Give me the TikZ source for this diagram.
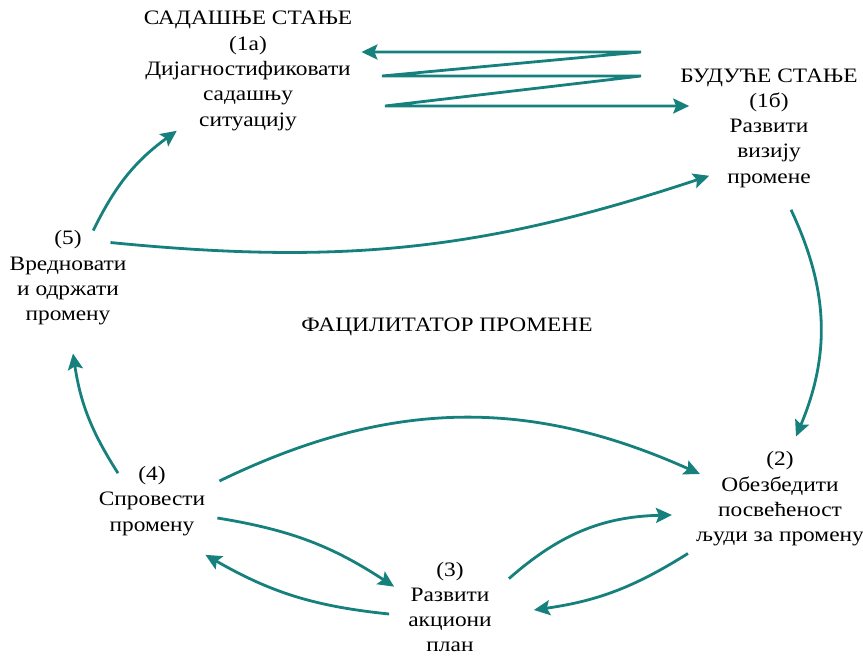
\documentclass[tikz,border=0pt]{standalone}
\usepackage{fontspec}
\setmainfont[FakeStretch=1.14]{Liberation Serif}
\usetikzlibrary{arrows.meta}
\definecolor{tealline}{RGB}{22,128,125}

\begin{document}
\begin{tikzpicture}[
    x=1pt, y=1pt,
    font=\fontsize{20.5}{25.3}\selectfont,
    stepbox/.style={align=center, inner sep=0pt},
    flow/.style={draw=tealline, line width=2.8pt, -{Stealth[length=16pt, width=15pt, inset=3pt]}},
    both/.style={draw=tealline, line width=2.8pt, {Stealth[length=16pt, width=15pt, inset=3pt]}-{Stealth[length=16pt, width=15pt, inset=3pt]}}
]
\useasboundingbox (0,0) rectangle (863,-656);

% Steps of the cycle
\node[stepbox] (now) at (248,-71) {САДАШЊЕ СТАЊЕ\\(1а)\\Дијагностификовати\\садашњу\\ситуацију};
\node[stepbox] (future) at (769,-128) {БУДУЋЕ СТАЊЕ\\(1б)\\Развити\\визију\\промене};
\node[stepbox] (commit) at (780,-499) {(2)\\Обезбедити\\посвећеност\\људи за промену};
\node[stepbox] (plan) at (450,-607) {(3)\\Развити\\акциони\\план};
\node[stepbox] (apply) at (152,-501) {(4)\\Спровести\\промену};
\node[stepbox] (keep) at (68,-278) {(5)\\Вредновати\\и одржати\\промену};
\node (facil) at (447,-327) {ФАЦИЛИТАТОР ПРОМЕНЕ};

% Zigzag between present and future state
\coordinate (z1) at (641,-52);
\coordinate (z2) at (382,-76);
\coordinate (z3) at (641,-76);
\coordinate (z4) at (385,-106);
\draw[both] ([xshift=9pt]now.east |- z1) -- (z1) -- (z2) -- (z3) -- (z4) -- ([xshift=9pt]future.west |- z4);

% Connections
\draw[flow] ([xshift=22pt,yshift=-22pt]future.south) to[bend left=24] ([xshift=16pt,yshift=15pt]commit.north);
\draw[flow] ([xshift=14pt,yshift=20pt]apply.east) to[bend left=25] ([xshift=4pt,yshift=25pt]commit.west);
\draw[flow] ([xshift=12pt,yshift=-17pt]apply.east) to[bend left=12] ([xshift=-14pt,yshift=-25pt]plan.north west);
\draw[flow] ([xshift=-19pt,yshift=-7pt]plan.west) to[bend left=12] ([yshift=-19pt]apply.south east);
\draw[flow] ([xshift=17pt,yshift=-17pt]plan.north east) to[bend left=20] ([xshift=-24pt,yshift=-16pt]commit.west);
\draw[flow] ([xshift=-8pt,yshift=-7pt]commit.south west) to[bend left=12] ([xshift=42pt,yshift=-3pt]plan.east);
\draw[flow] ([xshift=-34pt,yshift=-7pt]apply.north) to[bend left=12] ([xshift=5pt,yshift=-28pt]keep.south);
\draw[flow] (keep.62) to[bend left=14] (now.220);
\draw[flow] ([xshift=-16pt,yshift=-12pt]keep.north east) to[bend right=12] ([yshift=12pt]future.225);

\end{tikzpicture}
\end{document}
